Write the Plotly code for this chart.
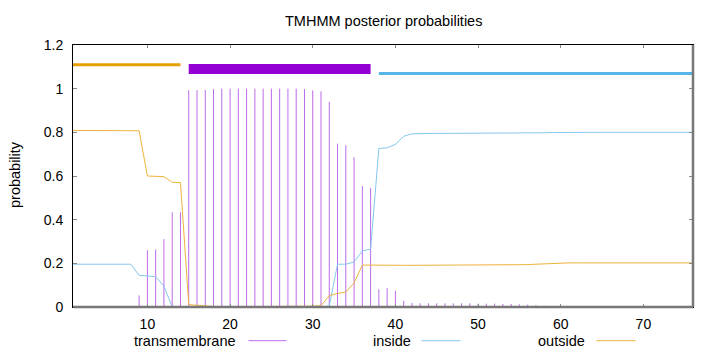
import plotly.graph_objects as go

# ---------------- data ----------------
positions = list(range(1, 77))

transmembrane = [0, 0, 0, 0, 0, 0, 0, 0,
                 0.053, 0.260, 0.264, 0.311, 0.434, 0.434,
                 0.993, 0.993, 0.994, 0.998,
                 1.0, 1.0, 1.0, 1.0, 1.0, 1.0, 1.0, 1.0, 1.0, 1.0,
                 0.998, 0.992, 0.988, 0.940, 0.748, 0.741, 0.686, 0.554, 0.545,
                 0.081, 0.086, 0.073, 0.028, 0.018,
                 0.017, 0.017, 0.017, 0.017, 0.017, 0.017, 0.017,
                 0.0155, 0.0155, 0.0155,
                 0.014, 0.014,
                 0.012, 0.011, 0.009, 0.006, 0.003,
                 0, 0, 0, 0, 0, 0, 0, 0, 0, 0, 0, 0, 0, 0, 0, 0, 0]

outside = [0.809] * 8 + [0.807, 0.600, 0.599, 0.597, 0.571, 0.570,
           0.011, 0.007, 0.005, 0.003] + [0.001] * 11 + \
          [0.004, 0.006, 0.052, 0.062, 0.068, 0.110, 0.192, 0.192] + \
          [0.191] * 13 + [0.192] * 5 + [0.194, 0.196, 0.198, 0.200, 0.201] + [0.202] * 16

inside = [0.196] * 8 + [0.145, 0.143, 0.139, 0.095] + [0.0] * 19 + \
         [0.005, 0.196, 0.196, 0.206, 0.257, 0.265, 0.726, 0.729, 0.745, 0.782, 0.793] + \
         [0.795] * 8 + [0.796] * 5 + [0.798] * 3 + [0.799] + [0.800] * 17

# predicted topology segments (start, end, level)
seg_outside = ([1, 14], 1.11)
seg_tm = ([15, 37], 1.09)
seg_inside = ([38, 76], 1.07)

x_ticks = [10, 20, 30, 40, 50, 60, 70]
y_ticks = [0, 0.2, 0.4, 0.6, 0.8, 1, 1.2]
y_tick_text = ["0", "0.2", "0.4", "0.6", "0.8", "1", "1.2"]

title_text = "TMHMM posterior probabilities"
y_title = "probability"
legend_names = ["transmembrane", "inside", "outside"]

# ---------------- styles ----------------
C_TM = "#9400d3"
C_IN = "#56b4e9"
C_OUT = "#e69f00"
C_TM_THIN = "#bd6be8"
C_IN_THIN = "#84c8ee"
C_OUT_THIN = "#edb43a"
FONT = "Liberation Sans, Arial, sans-serif"

W, H = 720, 352
L, R, T, B = 73, 27, 45, 45
PW, PH = W - L - R, H - T - B


def px(xpix):
    return (xpix - L) / PW


def py(ypix):
    return (H - B - ypix) / PH


fig = go.Figure()

# impulses for transmembrane
ix, iy = [], []
for p, v in zip(positions, transmembrane):
    ix += [p, p, None]
    iy += [0, v, None]
fig.add_trace(go.Scatter(x=ix, y=iy, mode="lines",
                         line=dict(color=C_TM_THIN, width=1), showlegend=False))

fig.add_trace(go.Scatter(x=positions, y=inside, mode="lines",
                         line=dict(color=C_IN_THIN, width=1), showlegend=False))
fig.add_trace(go.Scatter(x=positions, y=outside, mode="lines",
                         line=dict(color=C_OUT_THIN, width=1), showlegend=False))

# topology bars
for (xs, lvl), col, w in [(seg_outside, C_OUT, 3), (seg_tm, C_TM, 10), (seg_inside, C_IN, 3)]:
    fig.add_trace(go.Scatter(x=xs, y=[lvl, lvl], mode="lines",
                             line=dict(color=col, width=w), showlegend=False))

fig.update_layout(
    width=W, height=H,
    margin=dict(l=L, r=R, t=T, b=B),
    paper_bgcolor="white", plot_bgcolor="white",
    font=dict(family=FONT, size=14, color="black"),
    showlegend=False,
)
fig.update_xaxes(range=[1, 76], tickvals=x_ticks, ticks="inside", ticklen=3,
                 tickcolor="#888", showline=True, linecolor="black", linewidth=1,
                 mirror="ticks", showgrid=False, zeroline=False,
                 tickfont=dict(family=FONT, size=14), ticklabelstandoff=4)
fig.update_yaxes(range=[0, 1.2], tickvals=y_ticks, ticktext=y_tick_text,
                 ticks="inside", ticklen=4,
                 tickcolor="#888", showline=True, linecolor="black", linewidth=1,
                 mirror="ticks", showgrid=False, zeroline=False,
                 tickfont=dict(family=FONT, size=14), ticklabelstandoff=6)

# gray bottom and right border
fig.add_shape(type="line", xref="paper", yref="paper", x0=0, x1=1, y0=0, y1=0,
              line=dict(color="#777", width=2.5))
fig.add_shape(type="line", xref="paper", yref="paper", x0=1, x1=1, y0=0, y1=1,
              line=dict(color="#777", width=2.5))

ann = []
ann.append(dict(text=title_text, x=px(383), y=py(21.5), xref="paper", yref="paper",
                showarrow=False, xanchor="center", yanchor="middle",
                font=dict(family=FONT, size=14.5)))
ann.append(dict(text=y_title, x=px(15), y=py(175), xref="paper", yref="paper",
                showarrow=False, xanchor="center", yanchor="middle", textangle=-90,
                font=dict(family=FONT, size=14.5)))

legend_text_right = [238.5, 413, 587]
legend_line = [(248.5, 286.5), (421.5, 460.5), (596.5, 635.5)]
legend_cols = [C_TM_THIN, C_IN_THIN, C_OUT_THIN]
for name, xr, (l0, l1), col in zip(legend_names, legend_text_right, legend_line, legend_cols):
    ann.append(dict(text=name, x=px(xr), y=py(340.5), xref="paper", yref="paper",
                    showarrow=False, xanchor="right", yanchor="middle",
                    font=dict(family=FONT, size=14.5)))
    fig.add_shape(type="line", xref="paper", yref="paper", x0=px(l0), x1=px(l1),
                  y0=py(340.7), y1=py(340.7), line=dict(color=col, width=1))
fig.update_layout(annotations=ann)

fig.write_html("out.html")
